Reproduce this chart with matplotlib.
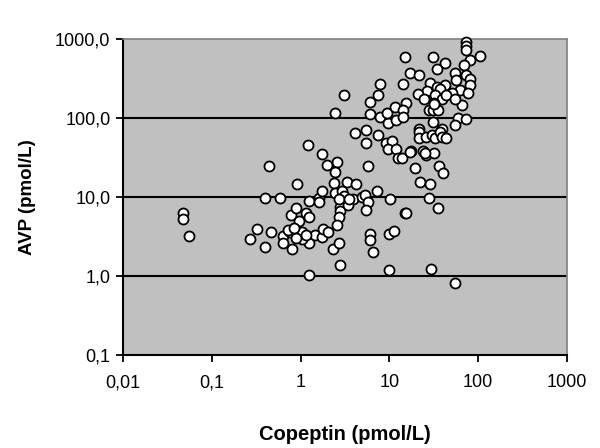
import matplotlib
matplotlib.use("Agg")
import matplotlib.pyplot as plt
from matplotlib.ticker import FixedLocator, FixedFormatter, NullLocator

copeptin = [
    0.047, 0.047, 0.055,
    0.44, 0.40, 0.58, 0.90,
    0.32, 0.27, 0.40, 0.46,
    0.63, 0.63, 0.79, 0.75,
    0.77, 0.88, 0.95, 1.14, 1.23,
    1.23, 1.63, 1.63, 1.72,
    1.23, 1.05, 1.44, 1.72, 1.81, 2.06,
    2.29, 2.7, 2.81, 1.23,
    2.35, 2.47, 2.96, 3.29,
    1.72, 1.96, 2.6, 2.47,
    2.81, 2.81, 2.7, 2.6,
    0.72, 1.03, 1.14, 0.88, 0.84,
    4.26, 3.12, 3.9, 3.4, 4.9, 5.3, 5.8, 5.5, 7.2, 10.1, 14.8, 15.5,
    6.1, 6.1, 6.6, 10, 11.4, 10,
    5.8, 19.6, 36.5, 40.5, 22, 28.8, 28, 35.6, 29.6, 55,
    2.47, 6.1, 7.9, 9.75, 9.4, 12,
    4.05, 5.5, 7.5, 5.5, 9.25, 10.6, 9.75, 12, 12.6,
    1.2, 2.74, 3.55,
    3.12, 7.9, 7.5, 6.1, 11.6,
    15.1, 30.7, 72.8, 72.8, 72.8, 104, 81.5, 68.5, 42.5, 34, 17.2, 21.7,
    55, 72.8, 81.5, 56.6, 28.8, 80.5, 42.5, 63, 77.5, 50.6, 34, 37.6,
    26.8, 21, 33, 24.5, 39, 31.7, 43.5, 66, 55, 15.5, 14.1, 14.1,
    27.8, 31, 35, 31.7, 30.7, 58.5, 72.8, 55, 21.5, 39,
    14.3, 21.5, 21.7, 26, 30, 32.4, 37.6, 39, 43.5, 17.6, 24.2, 26, 31.7, 13.7,
    17.2, 25,
]
avp = [
    6.2, 5.3, 3.2,
    24.7, 9.8, 9.8, 14.6,
    3.9, 2.9, 2.3, 3.6,
    3.2, 2.6, 2.2, 3.6,
    5.9, 7.2, 4.9, 6.3, 5.6,
    8.9, 9.7, 8.7, 12,
    2.6, 2.9, 3.3, 3.1, 3.9, 3.6,
    2.2, 2.6, 1.36, 1.03,
    15, 11.3, 12, 15.5,
    35, 25.4, 28, 21,
    7.5, 6.6, 5.6, 4.4,
    3.8, 3.6, 3.3, 3.0, 4.0,
    14.6, 10.3, 9.4, 7.9, 10, 10.6, 8.6, 6.8, 12, 9.4, 6.3, 6.3,
    3.4, 2.86, 2.0, 3.4, 3.7, 1.19,
    24.7, 23, 24.7, 20, 15.5, 14.6, 9.8, 7.2, 1.21, 0.81,
    116, 112, 103, 86, 116, 94,
    65, 70, 61, 48, 48, 51, 40.5, 40.5, 31.5,
    45.5, 9.4, 9.4,
    197, 269, 197, 160, 136,
    597, 597, 916, 815, 726, 610, 542, 473, 492, 421, 368, 347,
    368, 347, 315, 303, 280, 259, 259, 226, 206, 206, 248, 235,
    217, 201, 197, 176, 172, 156, 194, 145, 172, 156, 126, 102,
    126, 126, 126, 150, 89, 100, 96, 82, 73, 73,
    269, 66.5, 55, 58, 61, 55, 66.5, 57, 55, 38.6, 38.6, 34.3, 36, 31.5,
    37, 36,
]

x_ticks = [0.01, 0.1, 1, 10, 100, 1000]
x_tick_labels = ["0,01", "0,1", "1", "10", "100", "1000"]
y_ticks = [0.1, 1, 10, 100, 1000]
y_tick_labels = ["0,1", "1,0", "10,0", "100,0", "1000,0"]

plt.rcParams['font.family'] = ['Liberation Sans', 'DejaVu Sans']

fig = plt.figure(figsize=(6.0, 4.48), dpi=100)
ax = fig.add_axes([0.205, 0.2076, 0.74, 0.7054])
ax.set_facecolor('#C0C0C0')
ax.set_xscale('log')
ax.set_yscale('log')
ax.set_xlim(0.01, 1000)
ax.set_ylim(0.1, 1000)

for yv in [1, 10, 100]:
    ax.axhline(yv, color='black', lw=1.5, zorder=1)

ax.scatter(copeptin, avp, s=52, facecolor='white', edgecolor='black',
           linewidths=1.3, zorder=3, clip_on=False)

ax.xaxis.set_major_locator(FixedLocator(x_ticks))
ax.xaxis.set_major_formatter(FixedFormatter(x_tick_labels))
ax.yaxis.set_major_locator(FixedLocator(y_ticks))
ax.yaxis.set_major_formatter(FixedFormatter(y_tick_labels))
ax.xaxis.set_minor_locator(NullLocator())
ax.yaxis.set_minor_locator(NullLocator())
ax.tick_params(axis='both', direction='out', length=5, width=1.3,
               labelsize=13, color='black')
ax.tick_params(axis='x', pad=9)
ax.tick_params(axis='y', pad=4)

for side in ['left', 'bottom']:
    ax.spines[side].set_color('black')
    ax.spines[side].set_linewidth(1.5)
for side in ['top', 'right']:
    ax.spines[side].set_color('#808080')
    ax.spines[side].set_linewidth(1.2)

ax.set_xlabel('Copeptin (pmol/L)', fontsize=14.5, fontweight='bold', labelpad=24)
ax.set_ylabel('AVP (pmol/L)', fontsize=13.5, fontweight='bold', labelpad=14)

fig.savefig('out.png', dpi=100)
